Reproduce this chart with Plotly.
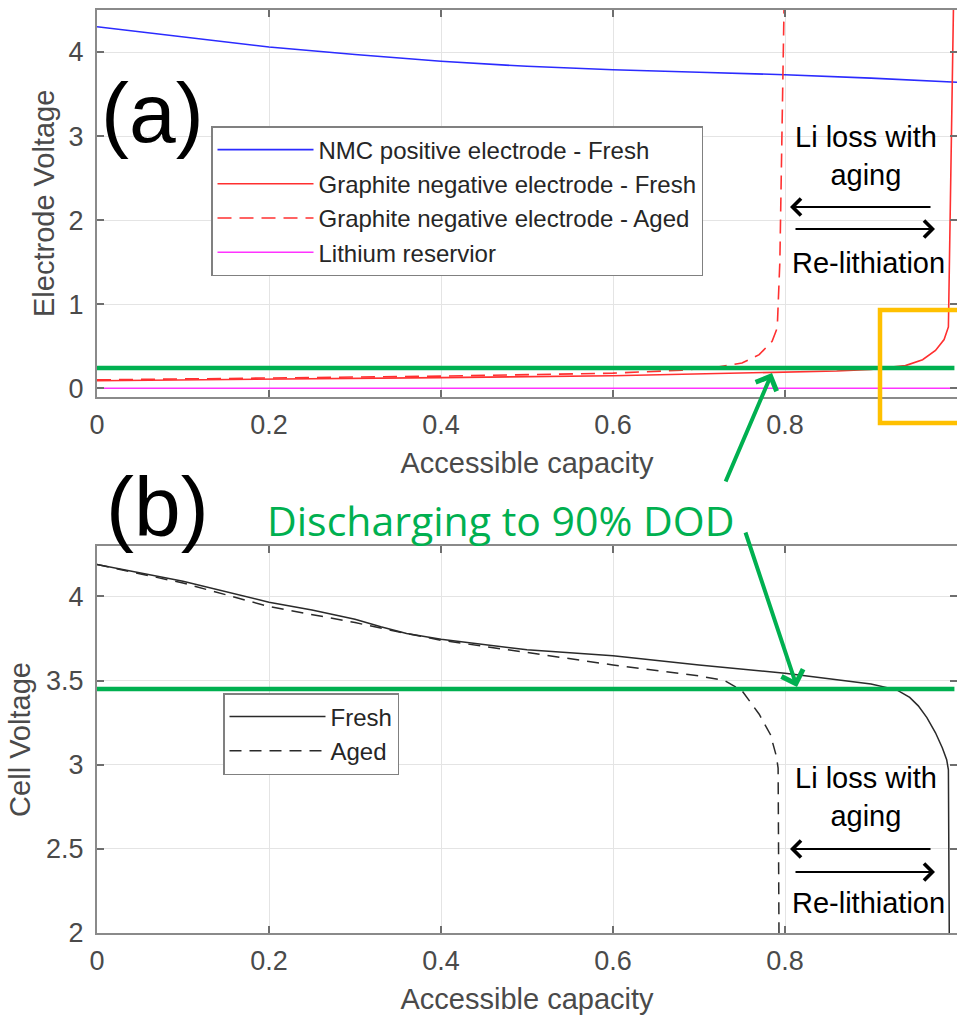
import plotly.graph_objects as go

W, H = 957, 1015


def px(x):
    return x / W


def py(y):
    return 1 - y / H


# ---------------- data ----------------
cap_nmc = [0, 0.1, 0.2, 0.3, 0.4, 0.5, 0.6, 0.7, 0.8, 0.9, 1.0]
v_nmc = [4.30, 4.18, 4.06, 3.97, 3.89, 3.83, 3.79, 3.76, 3.73, 3.69, 3.64]

cap_gr_fresh = [0, 0.2, 0.4, 0.6, 0.8, 0.86, 0.9, 0.94, 0.96, 0.975, 0.985, 0.99, 0.996]
v_gr_fresh = [0.09, 0.107, 0.127, 0.15, 0.186, 0.205, 0.225, 0.27, 0.34, 0.45, 0.58, 0.73, 4.6]

cap_gr_aged = [0, 0.2, 0.4, 0.6, 0.68, 0.72, 0.75, 0.77, 0.785, 0.791, 0.794, 0.799]
v_gr_aged = [0.10, 0.12, 0.145, 0.18, 0.215, 0.25, 0.30, 0.40, 0.56, 0.72, 1.5, 4.6]

cap_li = [0, 1.0]
v_li = [0.0, 0.0]

cap_cell_fresh = [0, 0.1, 0.2, 0.25, 0.3, 0.33, 0.36, 0.4, 0.5, 0.6, 0.7, 0.8, 0.9,
                  0.93, 0.945, 0.955, 0.965, 0.975, 0.983, 0.988, 0.99, 0.991]
v_cell_fresh = [4.19, 4.09, 3.966, 3.92, 3.865, 3.82, 3.78, 3.746, 3.683, 3.647, 3.593,
                3.544, 3.48, 3.445, 3.40, 3.35, 3.28, 3.19, 3.10, 3.03, 2.97, 2.0]

cap_cell_aged = [0, 0.1, 0.2, 0.3, 0.35, 0.4, 0.5, 0.6, 0.7, 0.73, 0.75, 0.77, 0.783,
                 0.79, 0.792, 0.793]
v_cell_aged = [4.19, 4.08, 3.94, 3.845, 3.79, 3.74, 3.667, 3.593, 3.528, 3.50, 3.44,
               3.30, 3.18, 3.05, 2.98, 2.0]

dod_v_electrode = 0.24
dod_v_cell = 3.45

x_ticks = [0, 0.2, 0.4, 0.6, 0.8, 1]
x_ticktext = ["0", "0.2", "0.4", "0.6", "0.8", "1"]
y_ticks_top = [0, 1, 2, 3, 4]
y_ticks_bot = [2, 2.5, 3, 3.5, 4]
y_ticktext_bot = ["2", "2.5", "3", "3.5", "4"]

names_top = ["NMC positive electrode - Fresh", "Graphite negative electrode - Fresh",
             "Graphite negative electrode - Aged", "Lithium reservior"]
names_bot = ["Fresh", "Aged"]

# ---------------- styling ----------------
FONT = "Liberation Sans"
GREEN = "#00B050"
ORANGE = "#FFC000"

fig = go.Figure()

fig.add_trace(go.Scatter(x=cap_nmc, y=v_nmc, mode="lines", name=names_top[0],
                         line=dict(color="#2b2bff", width=1.6), xaxis="x", yaxis="y",
                         legend="legend"))
fig.add_trace(go.Scatter(x=cap_gr_fresh, y=v_gr_fresh, mode="lines", name=names_top[1],
                         line=dict(color="#ff3030", width=1.6), xaxis="x", yaxis="y",
                         legend="legend"))
fig.add_trace(go.Scatter(x=cap_gr_aged, y=v_gr_aged, mode="lines", name=names_top[2],
                         line=dict(color="#ff3030", width=1.6, dash="14px,8px"),
                         xaxis="x", yaxis="y", legend="legend"))
fig.add_trace(go.Scatter(x=cap_li, y=v_li, mode="lines", name=names_top[3],
                         line=dict(color="#ff33ff", width=1.6), xaxis="x", yaxis="y",
                         legend="legend"))

fig.add_trace(go.Scatter(x=cap_cell_fresh, y=v_cell_fresh, mode="lines", name=names_bot[0],
                         line=dict(color="#2a2a2a", width=1.5), xaxis="x2", yaxis="y2",
                         legend="legend2"))
fig.add_trace(go.Scatter(x=cap_cell_aged, y=v_cell_aged, mode="lines", name=names_bot[1],
                         line=dict(color="#2a2a2a", width=1.5, dash="12px,8px"),
                         xaxis="x2", yaxis="y2", legend="legend2"))

ax_common = dict(
    automargin=False,
    showline=True, linecolor="#8a8a8a", linewidth=2, mirror="ticks",
    ticks="inside", ticklen=7, tickwidth=1.5, tickcolor="#6e6e6e",
    showgrid=True, gridcolor="#e4e4e4", gridwidth=1, zeroline=False,
    tickfont=dict(family=FONT, size=27, color="#4a4a4a"),
    title_font=dict(family=FONT, size=29, color="#4a4a4a"),
)

x_domain = [px(97), 1.0]
top_dom = [py(396.7), py(10)]
bot_dom = [py(933), py(546)]

fig.update_layout(
    template="none",
    width=W, height=H,
    margin=dict(l=0, r=0, t=0, b=0, autoexpand=False),
    paper_bgcolor="white", plot_bgcolor="white",
    xaxis=dict(domain=x_domain, range=[0, 1], anchor="y", tickvals=x_ticks,
               ticktext=x_ticktext, ticklabelstandoff=3,
               title=dict(text="Accessible capacity", standoff=14), **ax_common),
    yaxis=dict(domain=top_dom, range=[-0.1, 4.5], anchor="x", tickvals=y_ticks_top,
               ticklabelstandoff=6,
               title=dict(text="Electrode Voltage", standoff=5), **ax_common),
    xaxis2=dict(domain=x_domain, range=[0, 1], anchor="y2", tickvals=x_ticks,
                ticktext=x_ticktext, ticklabelstandoff=3,
                title=dict(text="Accessible capacity", standoff=17), **ax_common),
    yaxis2=dict(domain=bot_dom, range=[2, 4.3], anchor="x2", tickvals=y_ticks_bot,
                ticktext=y_ticktext_bot, ticklabelstandoff=6,
                title=dict(text="Cell Voltage", standoff=7), **ax_common),
    legend=dict(x=px(211), y=py(126), xanchor="left", yanchor="top",
                bgcolor="white", bordercolor="#808080", borderwidth=1.5,
                font=dict(family=FONT, size=24, color="#262626"),
                itemwidth=96, tracegroupgap=0),
    legend2=dict(x=px(223), y=py(693), xanchor="left", yanchor="top",
                 bgcolor="white", bordercolor="#808080", borderwidth=1.5,
                 font=dict(family=FONT, size=24, color="#262626"),
                 itemwidth=96, tracegroupgap=0),
    showlegend=True,
)

# green DOD lines and orange highlight box
shapes = [
    dict(type="line", xref="x", yref="y", x0=0, x1=0.997, y0=dod_v_electrode,
         y1=dod_v_electrode, line=dict(color=GREEN, width=4.5)),
    dict(type="line", xref="x2", yref="y2", x0=0, x1=0.997, y0=dod_v_cell,
         y1=dod_v_cell, line=dict(color=GREEN, width=4.5)),
    dict(type="rect", xref="paper", yref="paper", x0=px(880), x1=px(970),
         y0=py(423), y1=py(310), line=dict(color=ORANGE, width=4.5)),
]
fig.update_layout(shapes=shapes)

C = dict(xref="paper", yref="paper", xanchor="center", yanchor="middle")
ann = []
ann.append(dict(text="(a)", x=px(152), y=py(113), showarrow=False,
                font=dict(family=FONT, size=84, color="black"), **C))
ann.append(dict(text="(b)", x=px(157), y=py(507), showarrow=False,
                font=dict(family=FONT, size=84, color="black"), **C))
ann.append(dict(text="Discharging to 90% DOD", x=px(500), y=py(520), showarrow=False,
                font=dict(family="Open Sans", size=41, color=GREEN), **C))
# green arrows
ann.append(dict(text="", x=px(772), y=py(373), showarrow=True, ax=-47, ay=110,
                arrowhead=4, arrowsize=1.1, arrowwidth=4, arrowcolor=GREEN,
                standoff=0, **C))
ann.append(dict(text="", x=px(797), y=py(687), showarrow=True, ax=-52, ay=-156,
                arrowhead=4, arrowsize=1.1, arrowwidth=4, arrowcolor=GREEN,
                standoff=0, **C))

# Li loss / re-lithiation annotations (top and bottom)
for (ty, la_y, ra_y, by) in [(155.5, 207, 229, 263), (796.5, 849, 872, 903)]:
    ann.append(dict(text="Li loss with<br>aging", x=px(866), y=py(ty), showarrow=False,
                    font=dict(family=FONT, size=29, color="black"), **C))
    ann.append(dict(text="Re-lithiation", x=px(868), y=py(by), showarrow=False,
                    font=dict(family=FONT, size=29, color="black"), **C))
    ann.append(dict(text="", x=px(790), y=py(la_y), showarrow=True, ax=142, ay=0,
                    arrowhead=4, arrowsize=1.8, arrowwidth=1.8, arrowcolor="black",
                    standoff=0, **C))
    ann.append(dict(text="", x=px(935), y=py(ra_y), showarrow=True, ax=-141, ay=0,
                    arrowhead=4, arrowsize=1.8, arrowwidth=1.8, arrowcolor="black",
                    standoff=0, **C))

fig.update_layout(annotations=ann)

fig.write_html("out.html")
